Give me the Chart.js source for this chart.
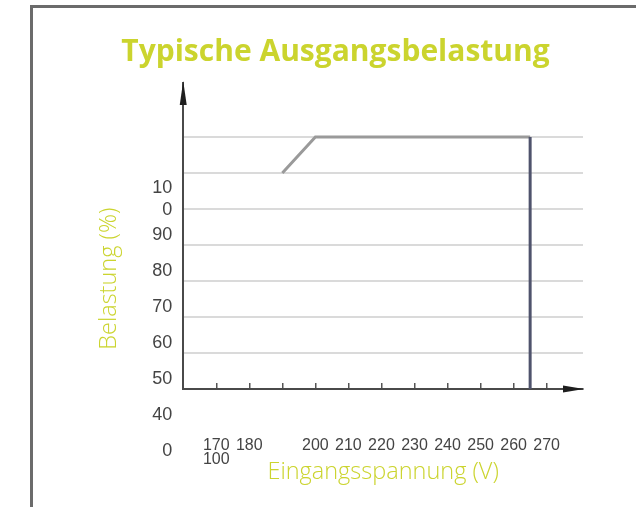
<!DOCTYPE html>
<html lang="de">
<head>
<meta charset="utf-8">
<title>Typische Ausgangsbelastung</title>
<script src="https://cdn.jsdelivr.net/npm/chart.js@4.4.1/dist/chart.umd.min.js"></script>
<style>
  html, body { margin: 0; padding: 0; background: #fff; }
  body { position: relative; width: 636px; height: 507px; overflow: hidden; }
  #frame { position: absolute; left: 30px; top: 5px; width: 700px; height: 600px;
    border-left: 3px solid #6b6b6b; border-top: 3px solid #6b6b6b; }
  #load { position: absolute; left: 0; top: 0; }
</style>
</head>
<body>
<div id="frame"></div>
<canvas id="load" width="636" height="507"></canvas>
<script>
'use strict';
// load curve: input voltage (V) -> output load (%)
var voltages = [190, 200, 265, 265];
var loads = [110, 120, 120, 50];

var xTickValues = [170, 180, 190, 200, 210, 220, 230, 240, 250, 260, 270];
var xTickLabels = [['170', '100'], '180', '', '200', '210', '220', '230', '240', '250', '260', '270'];
var yTickValues = [30, 40, 50, 60, 70, 80, 90, 100, 110, 120];
var yTickLabels = ['0', '40', '50', '60', '70', '80', '90', ['10', '0'], '', ''];

var green = '#cbd42e';
var axisColor = '#4a4a4a';
var tickFont = "'Liberation Sans Narrow', 'Liberation Sans', sans-serif";
var titleFont = "'Open Sans', sans-serif";

var points = [];
for (var i in voltages) {
  points.push({x: voltages[i], y: loads[i]});
}

// arrow heads at the ends of both axes
var axisArrows = {
  id: 'axisArrows',
  afterDraw: function(chart) {
    var ctx = chart.ctx;
    var area = chart.chartArea;
    ctx.save();
    ctx.fillStyle = '#1e1e1e';
    ctx.beginPath();
    ctx.moveTo(area.left, area.top - 2);
    ctx.lineTo(area.left - 3.5, area.top + 22);
    ctx.lineTo(area.left + 3.5, area.top + 22);
    ctx.closePath();
    ctx.fill();
    ctx.beginPath();
    ctx.moveTo(area.right + 1, area.bottom);
    ctx.lineTo(area.right - 20, area.bottom - 3.5);
    ctx.lineTo(area.right - 20, area.bottom + 3.5);
    ctx.closePath();
    ctx.fill();
    ctx.restore();
  }
};

var chart = new Chart(document.getElementById('load'), {
  type: 'line',
  data: {
    datasets: [{
      data: points,
      borderColor: '#9a9a9a',
      borderWidth: 3,
      pointRadius: 0,
      tension: 0,
      segment: {
        borderColor: function(ctx) { return ctx.p0DataIndex === 2 ? '#4f536c' : undefined; }
      }
    }]
  },
  options: {
    responsive: false,
    animation: false,
    devicePixelRatio: 1,
    layout: {padding: {left: 88, right: 53, top: 0, bottom: 0}},
    plugins: {
      legend: {display: false},
      tooltip: {enabled: false},
      title: {
        display: true,
        text: 'Typische Ausgangsbelastung',
        color: green,
        font: {family: titleFont, size: 30, weight: 'bold'},
        padding: {top: 34, bottom: 13}
      }
    },
    scales: {
      x: {
        type: 'linear',
        min: 160,
        max: 281,
        afterBuildTicks: function(scale) {
          scale.ticks = xTickValues.map(function(v) { return {value: v}; });
        },
        ticks: {
          autoSkip: false,
          maxRotation: 0,
          padding: 55,
          color: '#444',
          font: {family: tickFont, size: 16, lineHeight: 0.9},
          callback: function(value, index) { return xTickLabels[index]; }
        },
        grid: {drawOnChartArea: false, drawTicks: true, tickLength: -6, color: '#555', lineWidth: 1.5},
        border: {color: axisColor, width: 2},
        title: {
          display: true,
          text: 'Eingangsspannung (V)',
          color: green,
          font: {family: titleFont, size: 23.5, weight: 300},
          padding: {top: -64, bottom: 21}
        }
      },
      y: {
        min: 50,
        max: 135,
        afterBuildTicks: function(scale) {
          scale.ticks = yTickValues.map(function(v) { return {value: v}; });
        },
        ticks: {
          autoSkip: false,
          padding: 11,
          labelOffset: -10,
          color: '#444',
          font: {family: tickFont, size: 18, lineHeight: 1.25},
          callback: function(value, index) { return yTickLabels[index]; }
        },
        grid: {
          drawTicks: false,
          lineWidth: 2,
          color: function(ctx) { return ctx.tick && ctx.tick.value > 50 ? '#dadada' : 'rgba(0,0,0,0)'; }
        },
        border: {color: axisColor, width: 2},
        title: {
          display: true,
          text: 'Belastung (%)' + ' '.repeat(14),
          color: green,
          font: {family: titleFont, size: 23.5, weight: 300},
          padding: {top: 7, bottom: 18}
        }
      }
    }
  },
  plugins: [axisArrows]
});
</script>
</body>
</html>
